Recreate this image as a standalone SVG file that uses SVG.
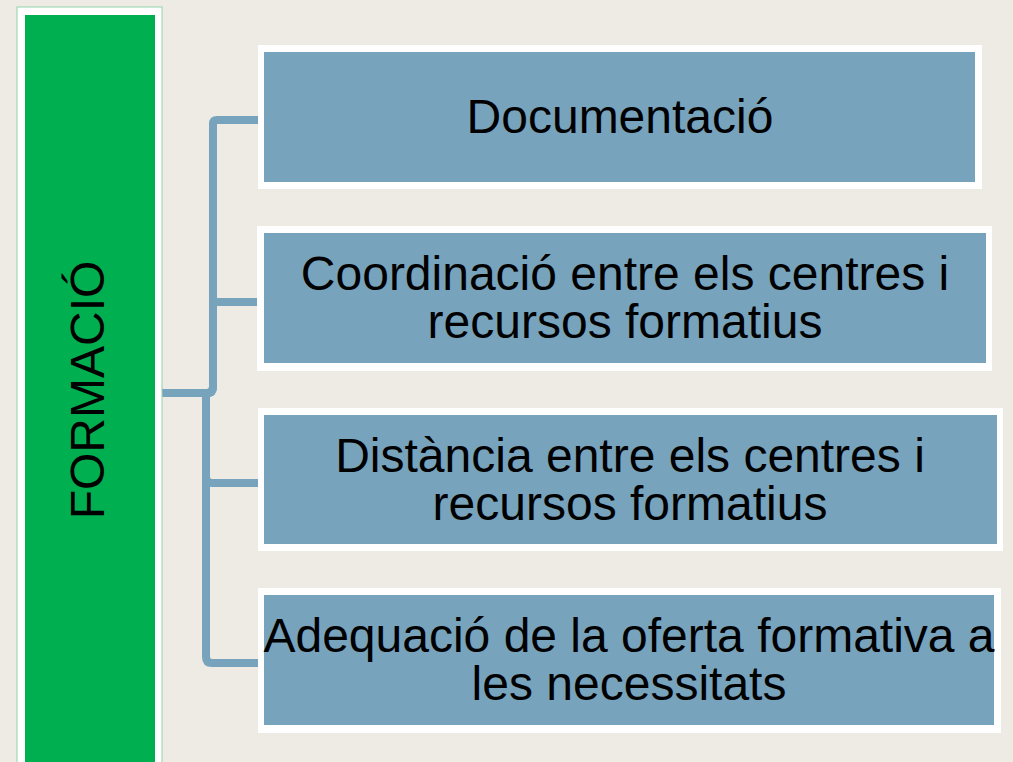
<svg xmlns="http://www.w3.org/2000/svg" width="1013" height="762" viewBox="0 0 1013 762">
<style>
.frame{fill:#FFFFFF}
.box{fill:#77A3BD}
.conn{fill:none;stroke:#77A3BD;stroke-width:8;stroke-linejoin:round}
.t{font-family:"Liberation Sans",Arial,sans-serif;font-size:48px;fill:#000000;text-anchor:middle}
</style>
<rect x="0" y="0" width="1013" height="762" fill="#EEEBE4"/>
<g id="connectors">
<path class="conn" d="M162,393 H207 Q213,393 213,387 V124 Q213,120 217,120 H258"/>
<path class="conn" d="M162,393 H207 Q213,393 213,387 V306 Q213,302 217,302 H258"/>
<path class="conn" d="M162,393 H206 V477 Q206,483 212,483 H258"/>
<path class="conn" d="M162,393 H206 V657 Q206,663 212,663 H258"/>
</g>
<g id="node-formacio">
<rect x="17" y="7" width="145" height="770" class="frame" stroke="#8FD3A8" stroke-width="1"/>
<rect x="25" y="15" width="130" height="760" fill="#00B050"/>
<text class="t" transform="translate(104,390) rotate(-90)">FORMACIÓ</text>
</g>
<g id="node-documentacio">
<rect x="258" y="45" width="724" height="144" class="frame"/>
<rect x="264" y="52" width="711" height="130" class="box"/>
<text class="t" x="620" y="133">Documentació</text>
</g>
<g id="node-coordinacio">
<rect x="257" y="226" width="735" height="145" class="frame"/>
<rect x="264" y="233" width="722" height="130" class="box"/>
<text class="t" x="625" y="290">Coordinació entre els centres i</text>
<text class="t" x="625" y="338">recursos formatius</text>
</g>
<g id="node-distancia">
<rect x="258" y="408" width="745" height="143" class="frame"/>
<rect x="264" y="415" width="733" height="129" class="box"/>
<text class="t" x="630" y="472">Distància entre els centres i</text>
<text class="t" x="630" y="520">recursos formatius</text>
</g>
<g id="node-adequacio">
<rect x="258" y="588" width="743" height="145" class="frame"/>
<rect x="264" y="595" width="730" height="130" class="box"/>
<text class="t" x="629" y="652">Adequació de la oferta formativa a</text>
<text class="t" x="629" y="700">les necessitats</text>
</g>
</svg>
